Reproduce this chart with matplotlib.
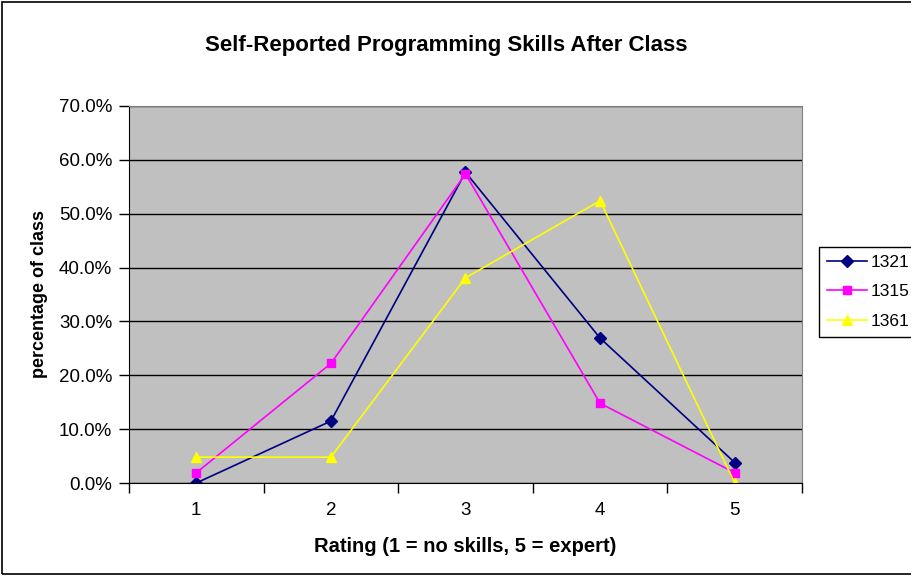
import matplotlib.pyplot as plt
from matplotlib.ticker import FuncFormatter
import matplotlib.patches as mpatches
import numpy as np

plt.rcParams['font.family'] = ['Liberation Sans', 'DejaVu Sans']

ratings = ['1', '2', '3', '4', '5']
s1321 = [0.0, 11.5, 57.7, 26.9, 3.8]
s1315 = [1.9, 22.2, 57.4, 14.8, 1.9]
s1361 = [4.8, 4.8, 38.1, 52.4, 0.0]
series_names = ['1321', '1315', '1361']

fig = plt.figure(figsize=(9.12, 5.76), dpi=100)
# plot area matching the reference pixel box
ax = fig.add_axes([129 / 912, 1 - 483 / 576, (802 - 129) / 912, (483 - 106) / 576])
ax.set_facecolor('#c0c0c0')

x = np.arange(1, 6)
ax.plot(x, s1321, color='#000080', marker='D', markersize=6, linewidth=1.2, label=series_names[0])
ax.plot(x, s1315, color='#ff00ff', marker='s', markersize=6, linewidth=1.2, label=series_names[1])
ax.plot(x, s1361, color='#ffff00', marker='^', markersize=7, linewidth=1.2, label=series_names[2])

ax.set_xlim(0.5, 5.5)
ax.set_ylim(0, 70)
ax.set_yticks(np.arange(0, 71, 10))
ax.yaxis.set_major_formatter(FuncFormatter(lambda v, p: f'{v:.1f}%'))
ax.set_xticks(np.arange(0.5, 5.6, 1))
ax.set_xticklabels([])
ax.set_xticks(x, minor=True)
ax.set_xticklabels(ratings, minor=True)
ax.tick_params(axis='x', which='minor', length=0, labelsize=13.5, pad=14)
ax.tick_params(axis='x', which='major', length=7, width=1, direction='out')
ax.tick_params(axis='y', length=7, width=1, direction='out', labelsize=13.5, pad=5)
ax.grid(axis='y', color='black', linewidth=1)
ax.set_axisbelow(True)

for side in ['top', 'right']:
    ax.spines[side].set_color('#808080')
ax.spines['left'].set_color('black')
ax.spines['bottom'].set_color('black')

ax.set_xlabel('Rating (1 = no skills, 5 = expert)', fontsize=14.5, fontweight='bold', labelpad=13)
ax.set_ylabel('percentage of class', fontsize=13, fontweight='bold', labelpad=8)
fig.text(446 / 912, 1 - 45 / 576, 'Self-Reported Programming Skills After Class',
         ha='center', va='center', fontsize=16, fontweight='bold')

leg = fig.legend(loc='upper left', bbox_to_anchor=(819 / 912, 1 - 247 / 576), fontsize=12.5,
                 frameon=True, fancybox=False, edgecolor='black', framealpha=1,
                 handlelength=2.3, handletextpad=0.25, borderpad=0.45, labelspacing=0.82,
                 borderaxespad=0)
leg.get_frame().set_linewidth(1)

fig.patches.append(mpatches.Rectangle((0.002, 0.003), 1.2, 0.994, transform=fig.transFigure,
                                      fill=False, edgecolor='black', linewidth=1.2))

fig.savefig('out.png', dpi=100)
